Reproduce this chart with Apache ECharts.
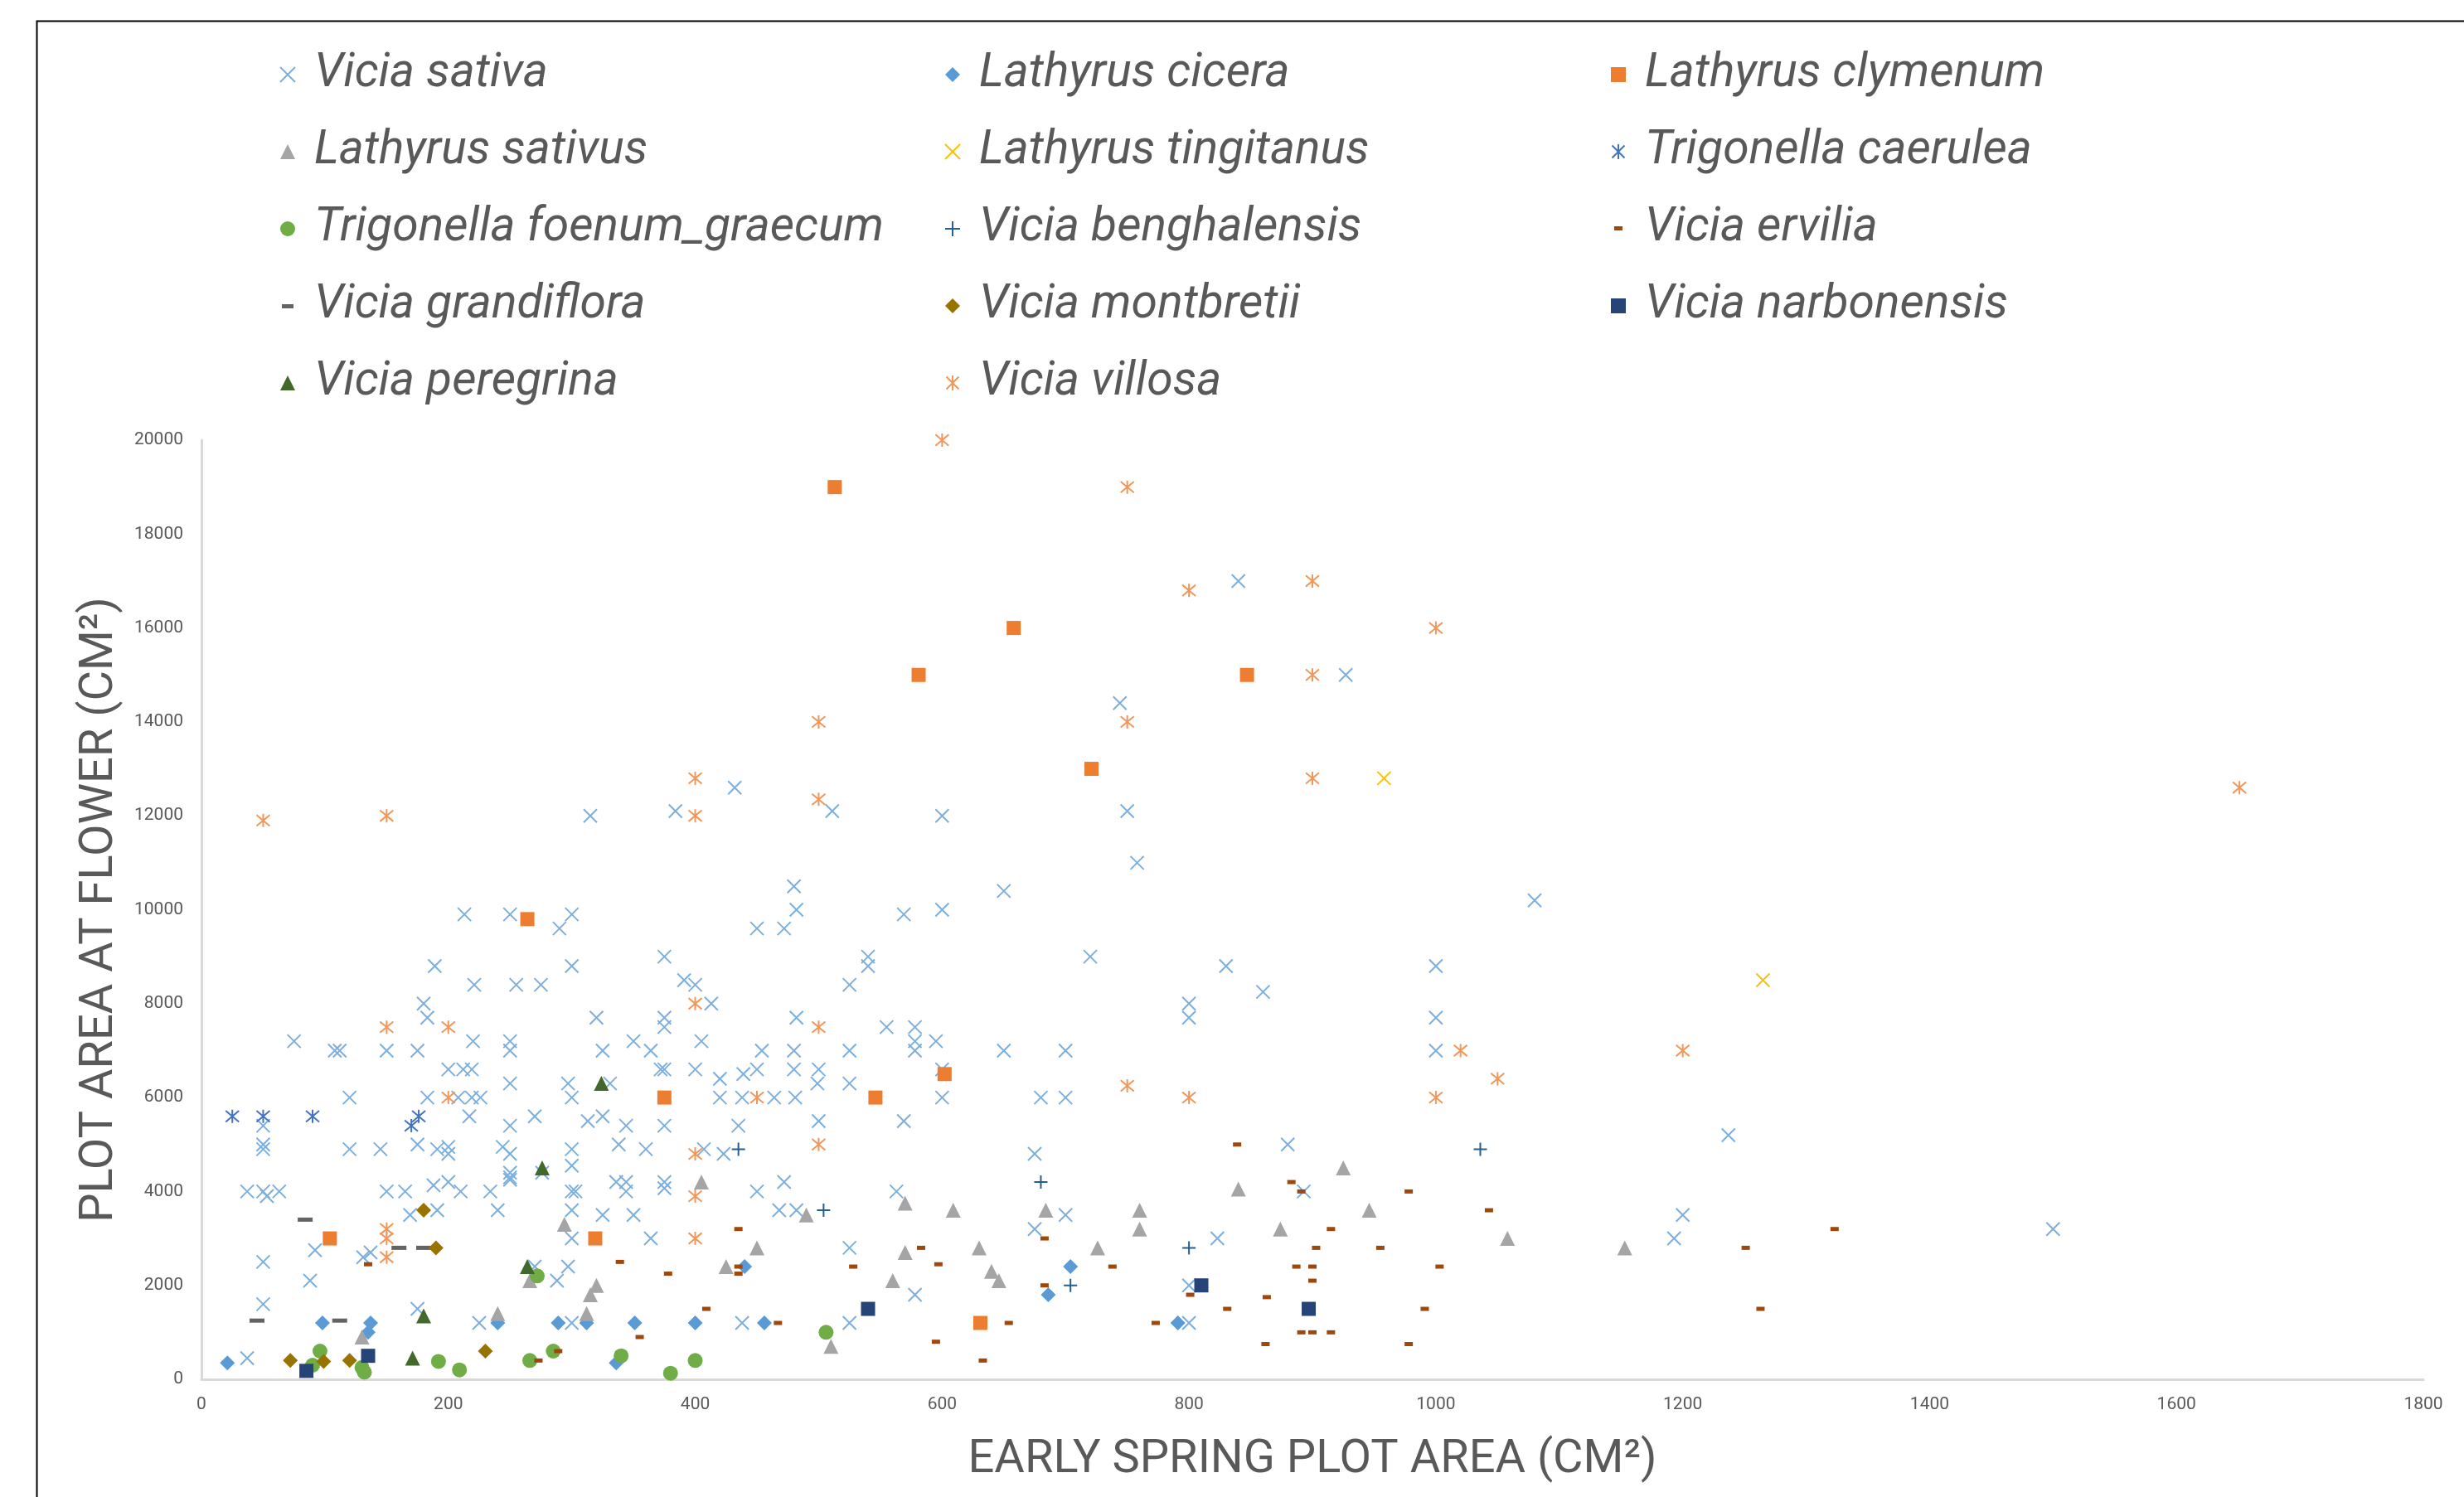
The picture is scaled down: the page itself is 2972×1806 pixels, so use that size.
<!DOCTYPE html>
<html>
<head>
<meta charset="utf-8">
<script src="https://cdn.jsdelivr.net/npm/echarts@6/dist/echarts.min.js"></script>
<style>
html,body{margin:0;padding:0;background:#fff;}
#chart{width:2972px;height:1806px;}
</style>
</head>
<body>
<div id="chart"></div>
<script>
// ---------------- DATA ----------------
const seriesNames = ['Vicia sativa','Lathyrus cicera','Lathyrus clymenum','Lathyrus sativus','Lathyrus tingitanus','Trigonella caerulea','Trigonella foenum_graecum','Vicia benghalensis','Vicia ervilia','Vicia grandiflora','Vicia montbretii','Vicia narbonensis','Vicia peregrina','Vicia villosa'];
const xTicks = [0,200,400,600,800,1000,1200,1400,1600,1800];
const yTicks = [0,2000,4000,6000,8000,10000,12000,14000,16000,18000,20000];

const viciaSativa = [
[50,5400],[50,5000],[50,4900],[120,4900],[145,4900],[175,5000],[191,4900],[200,4800],[200,4950],[244,4950],[250,4800],
[37,4000],[50,4000],[53,3900],[63,4000],[150,4000],[165,4000],[188,4130],[200,4200],[210,4000],[234,4000],[250,4400],[250,4300],[250,4250],
[169,3500],[191,3600],[240,3600],[92,2750],[131,2600],[137,2700],[50,2500],[88,2100],[50,1600],[175,1500],[225,1200],[37,450],
[300,4900],[338,5000],[360,4900],[407,4900],[423,4800],[300,4550],[276,4400],[300,4000],[303,4000],[336,4200],[344,4200],[344,4000],[375,4200],[375,4070],[300,3600],[325,3500],[350,3500],[450,4000],[472,4200],[468,3600],[482,3600],[300,3000],[364,3000],[270,2400],[297,2400],[288,2100],[300,1200],[438,1200],[525,2800],[525,1200],
[675,4800],[563,4000],[700,3500],[675,3200],[578,1800],[800,2000],[800,1200],
[880,5000],[893,4000],[823,3000],[1200,3500],[1193,3000],[1500,3200],
[213,9900],[250,9900],[189,8800],[221,8400],[255,8400],[180,8000],[183,7700],[75,7200],[108,7000],[112,7000],[150,7000],[175,7000],[220,7200],[250,7200],[250,7000],[200,6600],[212,6600],[219,6600],[250,6300],[120,6000],[183,6000],[208,6000],[219,6000],[226,6000],[217,5600],[250,5400],[270,5600],
[300,9900],[290,9600],[300,8800],[275,8400],[375,9000],[391,8500],[400,8400],[413,8000],[450,9600],[472,9600],[482,10000],[525,8400],[320,7700],[375,7700],[375,7500],[482,7700],[325,7000],[350,7200],[364,7000],[405,7200],[454,7000],[480,7000],[525,7000],[372,6600],[375,6600],[400,6600],[450,6600],[480,6600],[500,6600],[297,6300],[331,6300],[420,6400],[439,6500],[499,6300],[525,6300],[300,6000],[420,6000],[438,6000],[464,6000],[481,6000],[313,5500],[325,5600],[344,5400],[375,5400],[435,5400],[500,5500],
[569,9900],[600,10000],[540,9000],[540,8800],[720,9000],[555,7500],[578,7500],[578,7200],[578,7000],[595,7200],[650,7000],[700,7000],[600,6600],[600,6000],[680,6000],[700,6000],[569,5500],[800,8000],[800,7700],
[1080,10200],[830,8800],[1000,8800],[860,8250],[1000,7700],[1000,7000],[1237,5200],
[840,17000],[927,15000],[744,14400],[432,12600],[315,12000],[384,12100],[511,12100],[600,12000],[750,12100],[758,11000],[480,10500],[650,10400]
];
const lathyrusCicera = [[21,350],[98,1200],[137,1200],[135,1000],[240,1200],[289,1200],[312,1200],[351,1200],[400,1200],[456,1200],[440,2400],[336,350],[704,2400],[686,1800],[791,1200]];
const lathyrusClymenum = [[104,3000],[319,3000],[631,1200],[264,9800],[375,6000],[546,6000],[602,6500],[513,19000],[658,16000],[581,15000],[847,15000],[721,13000]];
const lathyrusSativus = [[130,900],[240,1400],[266,2100],[405,4200],[294,3300],[490,3500],[450,2800],[425,2400],[320,2000],[315,1800],[312,1400],[510,700],[570,3750],[609,3600],[684,3600],[760,3600],[760,3200],[570,2700],[630,2800],[726,2800],[560,2100],[640,2300],[646,2100],[925,4500],[840,4050],[946,3600],[874,3200],[1058,3000],[1153,2800]];
const lathyrusTingitanus = [[958,12800],[1265,8500]];
const trigonellaCaerulea = [[25,5600],[50,5600],[90,5600],[176,5600],[170,5400]];
const trigonellaFoenumGraecum = [[96,600],[90,300],[130,250],[132,150],[192,380],[209,200],[266,400],[272,2200],[285,600],[340,500],[380,130],[400,400],[506,1000]];
const viciaBenghalensis = [[435,4900],[504,3600],[680,4200],[704,2000],[800,2800],[1036,4900]];
const viciaErvilia = [[135,2450],[435,3200],[339,2500],[378,2250],[435,2400],[435,2250],[528,2400],[409,1500],[467,1200],[355,900],[289,600],[273,400],
[583,2800],[597,2450],[683,3000],[683,2000],[738,2400],[654,1200],[595,800],[633,400],[773,1200],[801,1800],
[839,5000],[883,4200],[891,4000],[978,4000],[1043,3600],[915,3200],[1323,3200],[903,2800],[955,2800],[1251,2800],[887,2400],[900,2400],[1003,2400],[900,2100],[863,1750],[831,1500],[991,1500],[1263,1500],[891,1000],[900,1000],[915,1000],[862,750],[978,750]];
const viciaGrandiflora = [[84,3400],[160,2800],[180,2800],[45,1250],[112,1250]];
const viciaMontbretii = [[180,3600],[190,2800],[72,400],[99,380],[120,400],[230,600]];
const viciaNarbonensis = [[85,180],[135,500],[540,1500],[810,2000],[897,1500]];
const viciaPeregrina = [[180,1350],[171,450],[264,2400],[276,4500],[324,6300]];
const viciaVillosa = [[150,3200],[150,3000],[150,2600],[400,4800],[500,5000],[400,3900],[400,3000],[150,7500],[200,7500],[200,6000],[400,8000],[500,7500],[450,6000],[750,6250],[800,6000],[1020,7000],[1200,7000],[1050,6400],[1000,6000],[600,20000],[750,19000],[800,16800],[900,17000],[1000,16000],[900,15000],[500,14000],[750,14000],[400,12800],[500,12350],[900,12800],[50,11900],[150,12000],[400,12000],[1651,12600]];

// ---------------- STYLE ----------------
const FONT = "'Liberation Sans Narrow','Roboto','Liberation Sans',sans-serif";
const TXT = '#595959';
const SYM_X = 'path://M0,0L10,10M10,0L0,10';
const SYM_AST = 'path://M0,0L10,10M10,0L0,10M5,-1L5,11';
const SYM_PLUS = 'path://M5,0L5,10M0,5L10,5';

function strokeSeries(name, data, sym, color, size, w) {
  return {name, type:'scatter', data, symbol:sym, symbolSize:size,
    itemStyle:{color:color, borderColor:color, borderWidth:w, opacity:1}, silent:true};
}
function fillSeries(name, data, sym, color, size) {
  return {name, type:'scatter', data, symbol:sym, symbolSize:size,
    itemStyle:{color:color, opacity:1}, silent:true};
}

const series = [
  strokeSeries('Vicia sativa', viciaSativa, SYM_X, '#7CAFDD', 16, 2),
  fillSeries('Lathyrus cicera', lathyrusCicera, 'diamond', '#5B9BD5', 18),
  fillSeries('Lathyrus clymenum', lathyrusClymenum, 'rect', '#ED7D31', 17),
  fillSeries('Lathyrus sativus', lathyrusSativus, 'triangle', '#A5A5A5', 18),
  strokeSeries('Lathyrus tingitanus', lathyrusTingitanus, SYM_X, '#FFC000', 16, 2),
  strokeSeries('Trigonella caerulea', trigonellaCaerulea, SYM_AST, '#4472C4', 16, 2),
  fillSeries('Trigonella foenum_graecum', trigonellaFoenumGraecum, 'circle', '#70AD47', 18),
  strokeSeries('Vicia benghalensis', viciaBenghalensis, SYM_PLUS, '#255E91', 16, 2),
  fillSeries('Vicia ervilia', viciaErvilia, 'rect', '#9E480E', [10,5]),
  fillSeries('Vicia grandiflora', viciaGrandiflora, 'rect', '#636363', [18,5]),
  fillSeries('Vicia montbretii', viciaMontbretii, 'diamond', '#997300', 18),
  fillSeries('Vicia narbonensis', viciaNarbonensis, 'rect', '#264478', 17),
  fillSeries('Vicia peregrina', viciaPeregrina, 'triangle', '#43682B', 18),
  strokeSeries('Vicia villosa', viciaVillosa, SYM_AST, '#F1975A', 16, 2)
];

const legendText = {fontSize:57, fontStyle:'italic', color:TXT, fontFamily:FONT, lineHeight:60, padding:[0,0,0,18]};
function legendCol(left, names) {
  return {orient:'vertical', left:left, top:55, itemWidth:18, itemHeight:18, itemGap:33,
    selectedMode:false, textStyle:legendText,
    data:names.map(n => {
      if (n === 'Vicia ervilia') return {name:n, icon:'path://M0,0M4,6h10v5h-10zM18,18'};
      if (n === 'Vicia grandiflora') return {name:n, icon:'path://M0,0M2,7h14v5h-14zM18,18'};
      return {name:n};
    })};
}

const chart = echarts.init(document.getElementById('chart'), null, {renderer:'canvas'});
chart.setOption({
  animation:false,
  backgroundColor:'#fff',
  grid:{left:243, right:49, top:531, bottom:142, containLabel:false},
  legend:[
    legendCol(332, [seriesNames[0],seriesNames[3],seriesNames[6],seriesNames[9],seriesNames[12]]),
    legendCol(1134,[seriesNames[1],seriesNames[4],seriesNames[7],seriesNames[10],seriesNames[13]]),
    legendCol(1938,[seriesNames[2],seriesNames[5],seriesNames[8],seriesNames[11]])
  ],
  xAxis:{type:'value', min:xTicks[0], max:xTicks[xTicks.length-1], interval:xTicks[1]-xTicks[0],
    axisLine:{show:true, lineStyle:{color:'#D9D9D9', width:3}}, axisTick:{show:false}, splitLine:{show:false},
    axisLabel:{color:TXT, fontSize:21, fontFamily:FONT, margin:20, formatter:v => String(v)},
    name:'EARLY SPRING PLOT AREA (CM²)', nameLocation:'middle', nameGap:70,
    nameTextStyle:{color:TXT, fontSize:56, fontFamily:FONT}},
  yAxis:{type:'value', min:yTicks[0], max:yTicks[yTicks.length-1], interval:yTicks[1]-yTicks[0],
    axisLine:{show:true, lineStyle:{color:'#D9D9D9', width:3}}, axisTick:{show:false}, splitLine:{show:false},
    axisLabel:{color:TXT, fontSize:21, fontFamily:FONT, margin:22, formatter:v => String(v)},
    name:'PLOT AREA AT FLOWER (CM²)', nameLocation:'middle', nameGap:94,
    nameTextStyle:{color:TXT, fontSize:56, fontFamily:FONT}},
  graphic:[{type:'rect', left:42, top:23, silent:true, z:-10,
    shape:{width:3100, height:1900}, style:{fill:'none', stroke:'#000', lineWidth:2}}],
  series:series
});
</script>
</body>
</html>
